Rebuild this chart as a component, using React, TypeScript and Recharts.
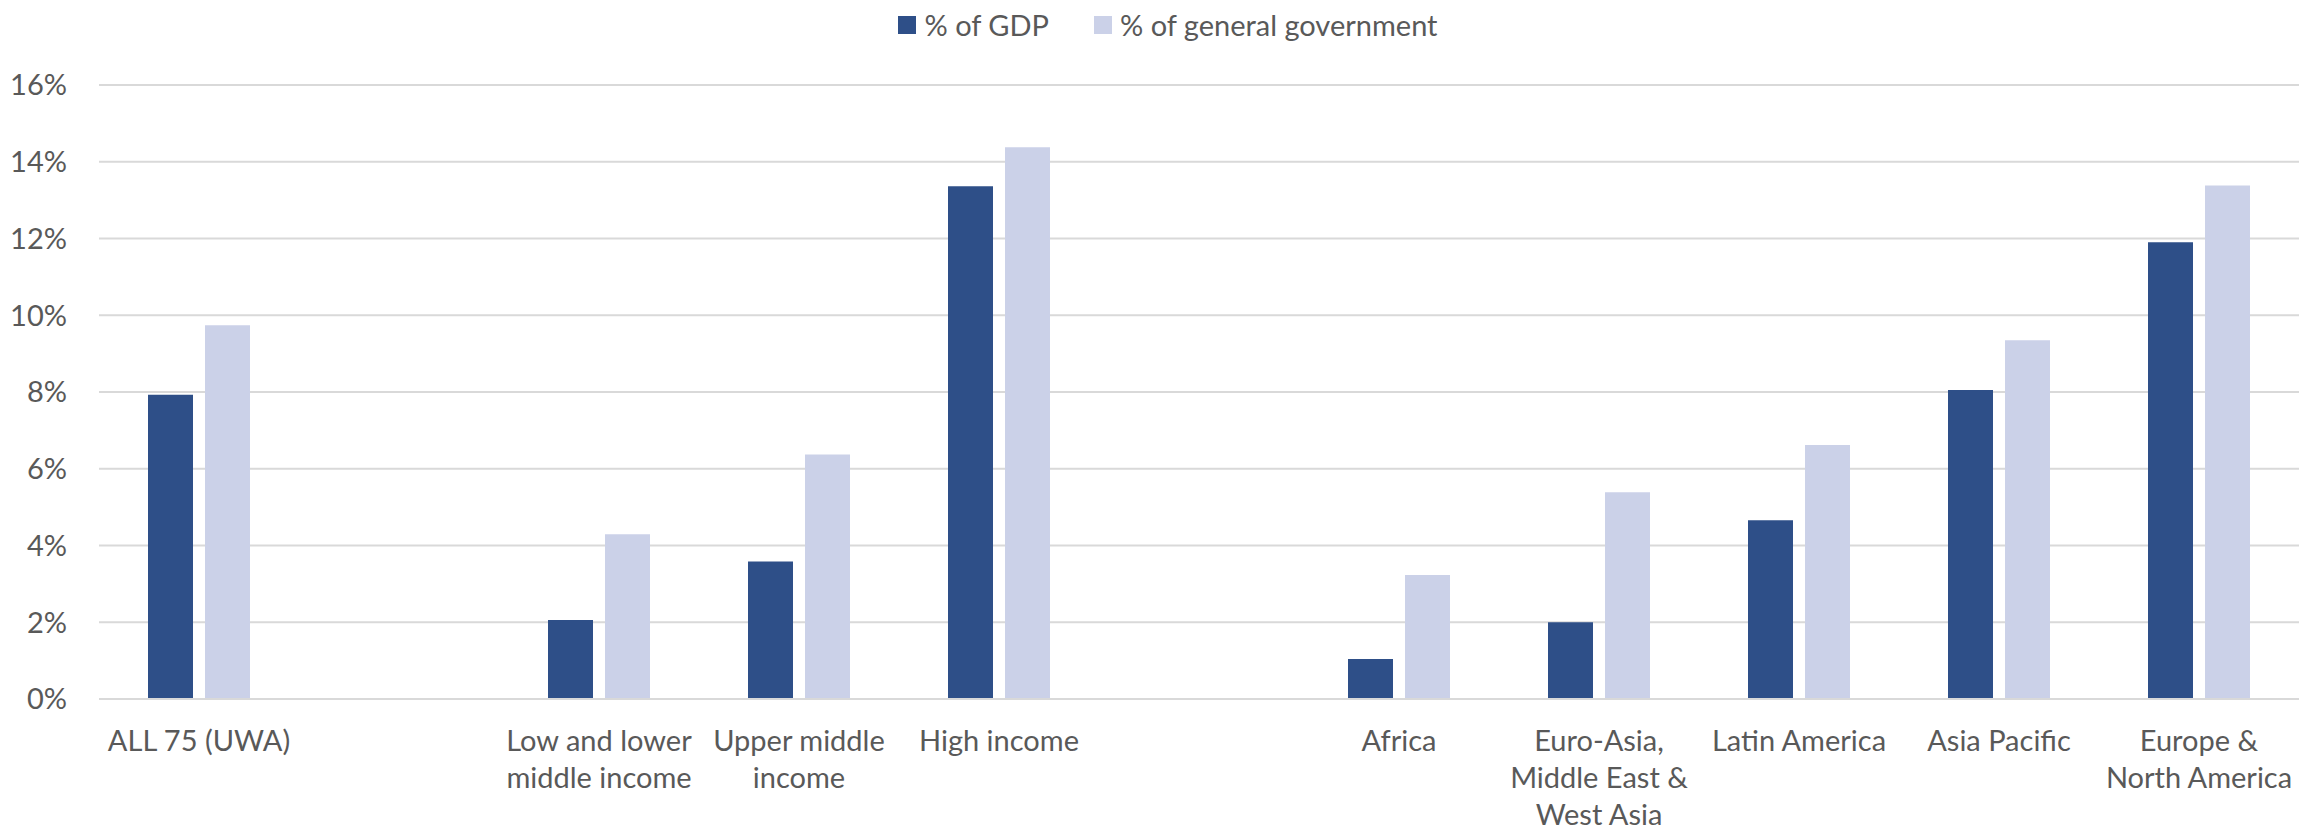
import React from 'react';
import { BarChart, Bar, XAxis, YAxis, CartesianGrid } from 'recharts';

const categories = [
  'ALL 75 (UWA)',
  '',
  'Low and lower\nmiddle income',
  'Upper middle\nincome',
  'High income',
  '',
  'Africa',
  'Euro-Asia,\nMiddle East &\nWest Asia',
  'Latin America',
  'Asia Pacific',
  'Europe &\nNorth America',
];
const gdpShare = [7.93, null, 2.06, 3.58, 13.36, null, 1.04, 2.0, 4.66, 8.05, 11.9];
const govShare = [9.74, null, 4.29, 6.37, 14.38, null, 3.23, 5.39, 6.62, 9.35, 13.38];
const yTicks = [0, 2, 4, 6, 8, 10, 12, 14, 16];
const seriesNames = ['% of GDP', '% of general government'];
const seriesColors = ['#2E4F88', '#CBD1E8'];

const data = categories.map((name, i) => ({ name, gdp: gdpShare[i], gov: govShare[i] }));

const FONT = 'Lato, "Open Sans", sans-serif';
const TEXT = '#595959';
const FS = 29;

const XTick = (props: any) => {
  const { x, y, payload } = props;
  const label = categories[payload.index] ?? '';
  if (!label) return null;
  const lines = label.split('\n');
  return (
    <text x={x} y={y + 52} textAnchor="middle" fill={TEXT} fontFamily={FONT} fontSize={FS}>
      {lines.map((l: string, i: number) => (
        <tspan key={i} x={x} dy={i === 0 ? 0 : 37}>
          {l}
        </tspan>
      ))}
    </text>
  );
};

export default function App() {
  return (
    <div style={{ position: 'absolute', left: 0, top: 0, width: 2300, height: 832, background: '#fff', fontFamily: FONT }}>
      <BarChart
        width={2300}
        height={832}
        data={data}
        margin={{ top: 85, right: 1, bottom: 0, left: 0 }}
        barSize={45}
        barGap={12}
      >
        <CartesianGrid vertical={false} stroke="#D9D9D9" strokeWidth={2} />
        <XAxis
          dataKey="name"
          interval={0}
          height={133}
          tickLine={false}
          tickSize={0}
          tickMargin={0}
          axisLine={{ stroke: '#D9D9D9', strokeWidth: 2 }}
          tick={<XTick />}
        />
        <YAxis
          width={99}
          domain={[0, 16]}
          ticks={yTicks}
          tickFormatter={(v: number) => `${v}%`}
          axisLine={false}
          tickLine={false}
          tickSize={0}
          tickMargin={32}
          tick={{ fill: TEXT, fontSize: FS, fontFamily: FONT }}
        />
        <Bar dataKey="gdp" name={seriesNames[0]} fill={seriesColors[0]} isAnimationActive={false} />
        <Bar dataKey="gov" name={seriesNames[1]} fill={seriesColors[1]} isAnimationActive={false} />
      </BarChart>
      <div
        style={{
          position: 'absolute',
          left: 0,
          top: 16,
          width: 2336,
          height: 18,
          display: 'flex',
          justifyContent: 'center',
          alignItems: 'center',
          fontFamily: FONT,
          fontSize: FS,
          color: TEXT,
        }}
      >
        {seriesNames.map((n, i) => (
          <div key={n} style={{ display: 'flex', alignItems: 'center', marginLeft: i === 0 ? 0 : 45 }}>
            <div style={{ width: 18, height: 18, background: seriesColors[i], marginRight: 8 }} />
            <span style={{ whiteSpace: 'nowrap', lineHeight: '18px' }}>{n}</span>
          </div>
        ))}
      </div>
    </div>
  );
}
